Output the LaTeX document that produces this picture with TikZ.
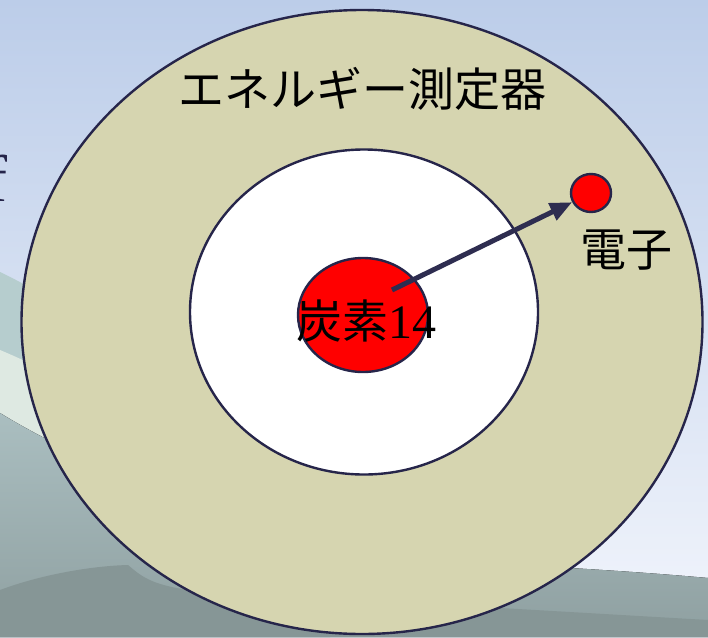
\documentclass[tikz,border=0pt]{standalone}
\usepackage{fontspec}
\newfontfamily\jp{Noto Sans CJK JP}
\newfontfamily\tms{Liberation Serif}
\usetikzlibrary{arrows.meta,shapes.geometric}
\definecolor{skytop}{RGB}{188,205,233}
\definecolor{skybot}{RGB}{242,245,252}
\definecolor{teal1}{RGB}{182,205,206}
\definecolor{pale1}{RGB}{222,233,226}
\definecolor{hill1}{RGB}{170,190,192}
\definecolor{hill2}{RGB}{143,160,161}
\definecolor{hill3}{RGB}{134,150,150}
\definecolor{ring}{RGB}{214,213,176}
\definecolor{edge}{RGB}{38,37,74}
\definecolor{arrowc}{RGB}{46,45,80}
\tikzset{
  disc/.style={ellipse, draw=edge, line width=2.4pt, inner sep=0pt},
  lbl/.style={inner sep=0pt, text=black, font=\jp\fontsize{46}{50}\selectfont},
}
\begin{document}
\begin{tikzpicture}[x=1pt,y=-1pt]
\useasboundingbox (0,0) rectangle (708,637);
% background
\fill[top color=skytop, bottom color=skybot] (0,0) rectangle (708,637);
\begin{scope}
\clip (0,0) rectangle (708,637);
\fill[teal1] (0,272) .. controls (80,310) and (200,400) .. (330,470) -- (330,637) -- (0,637) -- cycle;
\fill[pale1] (0,350) .. controls (60,375) and (160,430) .. (330,500) -- (330,637) -- (0,637) -- cycle;
\fill[top color=hill1, bottom color=hill2] (0,413) .. controls (60,450) and (200,520) .. (420,560) .. controls (520,565) and (620,570) .. (708,578) -- (708,637) -- (0,637) -- cycle;
\fill[hill3] (0,590) .. controls (40,575) and (90,566) .. (128,565) .. controls (140,575) and (150,585) .. (190,590) -- (708,620) -- (708,637) -- (0,637) -- cycle;
\node[anchor=east, inner sep=0pt, text=edge, font=\tms\fontsize{66}{70}\selectfont] (frag) at (8,178) {f};
\end{scope}
% detector rings
\node[disc, fill=ring, minimum width=681pt, minimum height=624pt] (det) at (362,322) {};
\node[disc, fill=white, minimum width=348pt, minimum height=325pt] (inner) at (364,312) {};
\node[disc, fill=red, minimum width=130pt, minimum height=114pt] (c14) at (363,315) {};
\node[disc, fill=red, minimum width=40pt, minimum height=38pt] (el) at (591,193) {};
% arrow
\coordinate (astart) at (392,290);
\draw[arrowc, line width=5pt, -{Triangle[length=22pt, width=18pt]}] (astart) -- (el);
% labels
\node[lbl] (tdet) at (362,89) {エネルギー測定器};
\node[lbl] (tel) at (626,250) {電子};
\node[lbl] (tc14) at (366,321) {炭素{\tms\fontsize{48}{50}\selectfont 14}};
\end{tikzpicture}
\end{document}
